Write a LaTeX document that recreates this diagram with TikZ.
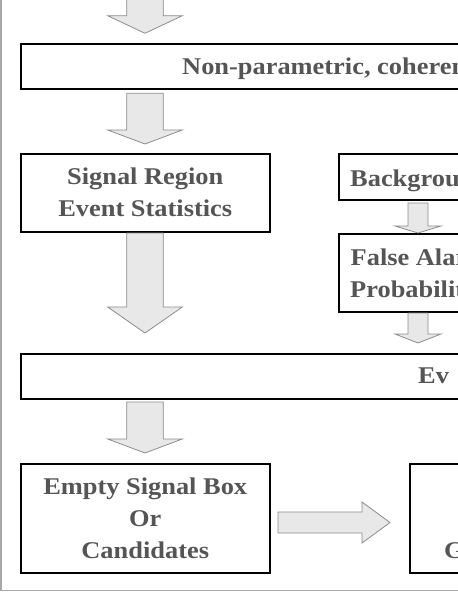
\documentclass[tikz,border=0pt]{standalone}
\usepackage{fontspec}
\setmainfont{Liberation Serif}[FakeStretch=1.1]
\definecolor{txt}{HTML}{555555}
\definecolor{afill}{HTML}{E8E8E8}
\definecolor{aline}{HTML}{8C8C8C}
\definecolor{frame}{HTML}{A8A8A8}
\tikzset{
  box/.style={draw=black, line width=1.5pt, fill=white, inner sep=0pt, anchor=north west},
  lbl/.style={text=txt, font=\fontsize{24}{32}\selectfont\bfseries, inner sep=0pt, align=center},
  blk/.style={fill=afill, draw=aline, line width=0.8pt, line join=miter},
}
% down block arrow: cx, shaft top, head base, tip, half shaft, half head
\newcommand{\blkdown}[6]{%
  \draw[blk] ({#1-#5},{#2}) -- ({#1+#5},{#2}) -- ({#1+#5},{#3}) -- ({#1+#6},{#3})
    -- ({#1},{#4}) -- ({#1-#6},{#3}) -- ({#1-#5},{#3}) -- cycle;}
\begin{document}
\begin{tikzpicture}[x=1pt,y=-1pt]
\useasboundingbox (0,0) rectangle (458,592);
\clip (0,0) rectangle (458,592);

% boxes
\node[box, minimum width=460pt, minimum height=45pt] (np) at (20,43.3) {};
\node[box, minimum width=249pt, minimum height=78pt, lbl] (sig) at (20,153) {Signal Region\\Event Statistics};
\node[box, minimum width=150pt, minimum height=46pt] (bg) at (338,153) {};
\node[box, minimum width=150pt, minimum height=78pt] (fa) at (338,233) {};
\node[box, minimum width=460pt, minimum height=45pt] (ev) at (20,353) {};
\node[box, minimum width=249pt, minimum height=109pt, lbl] (es) at (20,463) {Empty Signal Box\\Or\\Candidates};
\node[box, minimum width=80pt, minimum height=109pt] (rb) at (409,463) {};

% texts clipped at the right edge
\node[lbl, anchor=base west] (npt) at (182,74) {Non-parametric, coherent};
\node[lbl, anchor=base west] (bgt) at (350,186) {Background};
\node[lbl, anchor=base west] (fat1) at (350.5,265) {False Alarm};
\node[lbl, anchor=base west] (fat2) at (350,297) {Probability};
\node[lbl, anchor=base west] (evt) at (418,383.5) {Ev};
\node[lbl, anchor=base west] (rbt) at (444,558) {G};

% block arrows
\blkdown{145}{-5}{15.7}{33.3}{18.3}{37.3}
\blkdown{145}{93.3}{130}{144}{18.3}{37.3}
\blkdown{145}{233}{307}{333}{18.3}{37.3}
\blkdown{145}{402}{439}{453}{18.3}{37.3}
\blkdown{418}{203}{226}{233}{10}{23}
\blkdown{418}{313}{334}{343}{10}{23}
\draw[blk] (278,512) -- (362,512) -- (362,502) -- (390,522.5) -- (362,543)
  -- (362,533) -- (278,533) -- cycle;

% outer frame
\draw[frame, line width=1.5pt] (1,0) -- (1,590.5) -- (460,590.5);
\end{tikzpicture}
\end{document}
